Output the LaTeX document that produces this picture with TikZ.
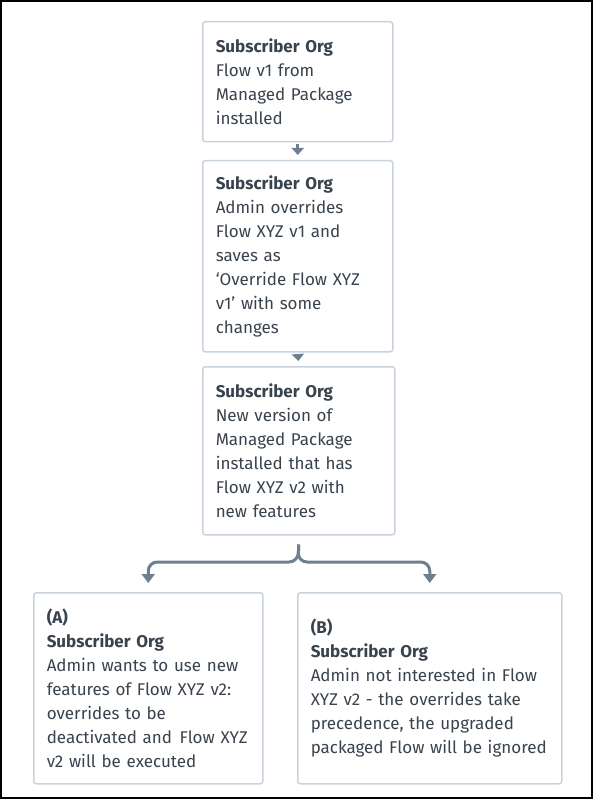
\documentclass[tikz,border=0pt]{standalone}
\usepackage{fontspec}
\setmainfont{Fira Sans}
\usetikzlibrary{arrows.meta}
\definecolor{txt}{HTML}{39434E}
\definecolor{boxc}{HTML}{C9D3DD}
\definecolor{conn}{HTML}{6E7F90}
\tikzset{
  flowbox/.style={draw=boxc, line width=1.5pt, rounded corners=2.5pt, fill=white,
    anchor=north west, inner xsep=13pt, inner ysep=0pt, align=left,
    text=txt, font=\fontsize{17}{24}\selectfont},
  smallarrow/.style={draw=conn, line width=2.6pt, -{Triangle[width=12pt,length=7pt]}},
  branch/.style={draw=conn, line width=3pt, rounded corners=9pt, -{Triangle[width=13pt,length=9pt]}}
}
\begin{document}
\begin{tikzpicture}[x=1pt,y=-1pt]
\useasboundingbox (0,0) rectangle (593,799);
\draw[black, line width=1.6pt] (0.8,0.8) rectangle (592,798);

\node[flowbox, text width=164pt, minimum width=190pt, minimum height=120pt] (b1) at (202,21)
  {\textbf{Subscriber Org}\\Flow v1 from\\Managed Package\\installed};
\node[flowbox, text width=164pt, minimum width=190pt, minimum height=191pt] (b2) at (202,160)
  {\textbf{Subscriber Org}\\Admin overrides\\Flow XYZ v1 and\\saves as\\‘Override Flow XYZ\\v1’ with some\\changes};
\node[flowbox, text width=166pt, minimum width=192pt, minimum height=168pt] (b3) at (202,366)
  {\textbf{Subscriber Org}\\New version of\\Managed Package\\installed that has\\Flow XYZ v2 with\\new features};
\node[flowbox, text width=203pt, minimum width=229pt, minimum height=191pt] (bA) at (33,592)
  {\textbf{(A)}\\\textbf{Subscriber Org}\\Admin wants to use new\\features of Flow XYZ v2:\\overrides to be\\\mbox{deactivated and\hspace{0.45em}Flow XYZ}\\v2 will be executed};
\node[flowbox, text width=238pt, minimum width=264pt, minimum height=191pt] (bB) at (297,592)
  {\textbf{(B)}\\\textbf{Subscriber Org}\\Admin not interested in Flow\\XYZ v2 - the overrides take\\precedence, the upgraded\\packaged Flow will be ignored};

\draw[smallarrow, shorten <=2pt, shorten >=5pt] (b1.south) -- (b2.north);
\draw[smallarrow, shorten <=2pt, shorten >=5pt] (b2.south) -- (b3.north);

\coordinate (fork) at (298,562);
\draw[branch, shorten >=9pt] ([yshift=-9pt]b3.south) -- (fork) -| (bA.north);
\draw[branch, shorten >=9pt] ([yshift=-9pt]b3.south) -- (fork) -| (bB.north);
\end{tikzpicture}
\end{document}
